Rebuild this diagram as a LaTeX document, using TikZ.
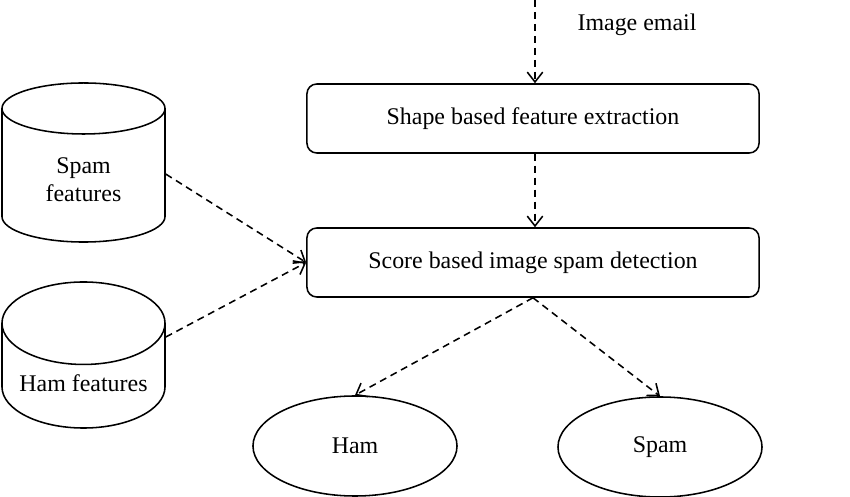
\documentclass[tikz,border=0pt]{standalone}
\usepackage{fontspec}
\setmainfont{Liberation Serif}
\usetikzlibrary{arrows.meta,shapes.geometric}

\tikzset{
  box/.style={draw, line width=1.1pt, rounded corners=7pt, minimum width=11.3cm, minimum height=1.725cm},
  store/.style={draw, line width=1.1pt, cylinder, shape border rotate=90, aspect=0.6, minimum width=4.075cm, minimum height=3.975cm, align=center, anchor=shape center},
  leaf/.style={draw, line width=1.1pt, ellipse, minimum width=5.1cm, minimum height=2.5cm},
  flow/.style={line width=1.1pt, dash pattern=on 5pt off 3.5pt, -{Straight Barb[length=7pt,width=11pt,line width=1.1pt]}}
}

\begin{document}
\begin{tikzpicture}[x=0.025cm, y=-0.025cm, font=\fontsize{17}{20}\selectfont]

\useasboundingbox (0,0) rectangle (850,497);

\coordinate (src) at (535,0);
\node (lbl) at (637,25) {Image email};

\node[box] (shape) at (533,118.5) {Shape based feature extraction};
\node[box] (score) at (533,262.5) {Score based image spam detection};

\node[store] (spamdb) at (83.5,162.5) {Spam\\features};
\node[store, minimum height=3.65cm] (hamdb) at (83.5,355) {Ham features};

\node[leaf] (ham) at (355,446) {Ham};
\node[leaf] (spam) at (660,447) {Spam};

\draw[flow] (src) -- (shape.north -| src);
\draw[flow] (shape.south -| src) -- (score.north -| src);
\draw[flow] ([yshift=-0.29cm]spamdb.shape center -| spamdb.east) -- (score.west);
\draw[flow] ([yshift=0.45cm]hamdb.shape center -| hamdb.east) -- (score.west);
\draw[flow] (score.south) -- (ham.north);
\draw[flow] (score.south) -- (spam.north);

\end{tikzpicture}
\end{document}
